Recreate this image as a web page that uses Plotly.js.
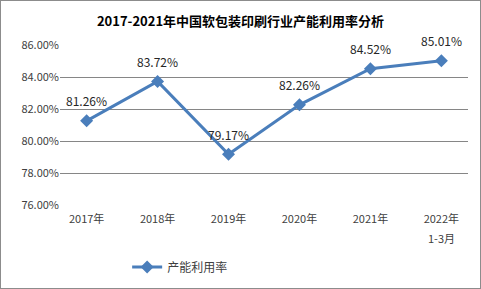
<!DOCTYPE html>
<html><head><meta charset="utf-8">
<script src="https://cdn.plot.ly/plotly-3.0.1.min.js"></script>
<style>html,body{margin:0;padding:0;background:#fff}#c{width:479px;height:287px;border:1px solid #8c8c8c}</style>
</head><body><div id="c"></div>
<script>
const categories = ['2017年','2018年','2019年','2020年','2021年','2022年1-3月'];
const tickLine1 = ['2017年','2018年','2019年','2020年','2021年','2022年'];
const tickLine2 = ['','','','','','1-3月'];
const values = [81.26, 83.72, 79.17, 82.26, 84.52, 85.01];
const labels = ['81.26%','83.72%','79.17%','82.26%','84.52%','85.01%'];
const seriesName = '产能利用率';
const tickVals = [76,78,80,82,84,86];
const tickText = ['76.00%','78.00%','80.00%','82.00%','84.00%','86.00%'];
const font = '"Noto Sans CJK SC", "DejaVu Sans", sans-serif';
const annotations = categories.map((c, i) => ({
  x: c, y: values[i], xref: 'x', yref: 'y', text: labels[i], showarrow: false,
  yshift: 20, font: {size: 12, color: '#262626', family: font}
}));
categories.forEach((c, i) => {
  if (tickLine2[i]) annotations.push({
    x: c, y: 0, xref: 'x', yref: 'paper', text: tickLine2[i], showarrow: false,
    yanchor: 'middle', yshift: -33, font: {size: 11, color: '#404040', family: font}
  });
});
Plotly.newPlot('c', [{
  x: categories, y: values, type: 'scatter', mode: 'lines+markers',
  name: seriesName,
  line: {color: '#4a7ebb', width: 3},
  marker: {symbol: 'diamond', size: 10, color: '#4a7ebb'},
  cliponaxis: false
}], {
  width: 479, height: 287,
  margin: {l: 59, r: 12, t: 44, b: 83},
  paper_bgcolor: '#fff', plot_bgcolor: '#fff',
  annotations: annotations,
  title: {text: '<b>2017-2021年中国软包装印刷行业产能利用率分析</b>', x: 0.5, xanchor: 'center', y: 0.93, yanchor: 'middle', font: {size: 13, color: '#000', family: font}},
  xaxis: {type: 'category', tickvals: categories, ticktext: tickLine1, showgrid: false, showline: false, ticks: '', ticklabelstandoff: 6, tickfont: {size: 11, color: '#404040', family: font}, fixedrange: true},
  yaxis: {range: [76, 86], tickvals: tickVals, ticktext: tickText, showgrid: true, gridcolor: '#868686', gridwidth: 1, zeroline: false, showline: false, ticks: '', tickfont: {size: 11, color: '#404040', family: font}, fixedrange: true},
  showlegend: true,
  legend: {orientation: 'h', xref: 'container', yref: 'container', x: 0.374, xanchor: 'center', y: 0.073, yanchor: 'middle', font: {size: 12, color: '#404040', family: font}}
}, {displayModeBar: false, staticPlot: true});
</script></body></html>
